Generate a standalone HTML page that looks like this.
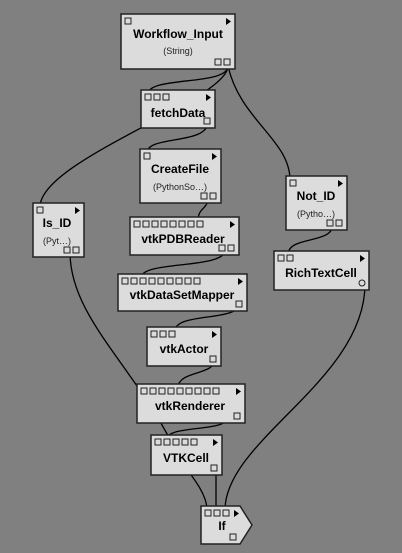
<!DOCTYPE html>
<html><head><style>
html,body{margin:0;padding:0;background:#808080;}
svg{display:block;}
text{font-family:"Liberation Sans",sans-serif;fill:#000;}
.t{font-weight:bold;font-size:12px;}
.s{font-size:9px;fill:#222;}
.n{fill:#dcdcdc;stroke:#222;stroke-width:1.5;}
.c{fill:none;stroke:#000;stroke-width:1.3;}
.p{fill:#dcdcdc;stroke:#222;stroke-width:1;}
</style></head><body>
<svg id="g" width="402" height="553" viewBox="0 0 402 553">
<rect width="402" height="553" fill="#808080"/>
<g>
<path class="c" d="M228,66 C228,86 148,76 148,94"/>
<path class="c" d="M228,66 C228,100 40,160 40,207"/>
<path class="c" d="M228,66 C240,120 290,140 290,180"/>
<path class="c" d="M208,122 C208,145 147,135 147,153"/>
<path class="c" d="M208,197 C208,210 198,207 198,221"/>
<path class="c" d="M226,249 C226,270 141,260 141,278"/>
<path class="c" d="M240,303 C240,322 175,312 175,331"/>
<path class="c" d="M215,359 C215,376 178,370 178,388"/>
<path class="c" d="M227,418 C227,432 167,425 167,439"/>
<path class="c" d="M70,252 C70,320 140,370 180,460 C195,480 207,495 207,510"/>
<path class="c" d="M216,469 L216,510"/>
<path class="c" d="M365,284 C365,380 225,440 225,510"/>
<path class="c" d="M333,224 C333,245 288,235 288,255"/>
</g>
<g>
<rect class="n" x="121" y="14" width="114" height="55"/>
<text class="t" x="178" y="38" text-anchor="middle">Workflow_Input</text>
<text class="s" x="178" y="54" text-anchor="middle">(String)</text>

<rect class="n" x="141" y="90" width="74" height="38"/>
<text class="t" x="178" y="117" text-anchor="middle">fetchData</text>

<rect class="n" x="140" y="149" width="81" height="54"/>
<text class="t" x="180" y="173" text-anchor="middle">CreateFile</text>
<text class="s" x="180" y="190" text-anchor="middle">(PythonSo…)</text>

<rect class="n" x="33" y="203" width="51" height="54"/>
<text class="t" x="57" y="227" text-anchor="middle">Is_ID</text>
<text class="s" x="57" y="244" text-anchor="middle">(Pyt…)</text>

<rect class="n" x="286" y="176" width="61" height="54"/>
<text class="t" x="316" y="200" text-anchor="middle">Not_ID</text>
<text class="s" x="316" y="217" text-anchor="middle">(Pytho…)</text>

<rect class="n" x="274" y="251" width="95" height="39"/>
<text class="t" x="321" y="277" text-anchor="middle">RichTextCell</text>

<rect class="n" x="130" y="217" width="109" height="38"/>
<text class="t" x="183" y="243" text-anchor="middle">vtkPDBReader</text>

<rect class="n" x="118" y="274" width="129" height="37"/>
<text class="t" x="182" y="299" text-anchor="middle">vtkDataSetMapper</text>

<rect class="n" x="147" y="327" width="74" height="39"/>
<text class="t" x="184" y="353" text-anchor="middle">vtkActor</text>

<rect class="n" x="137" y="384" width="108" height="39"/>
<text class="t" x="190" y="410" text-anchor="middle">vtkRenderer</text>

<rect class="n" x="151" y="435" width="71" height="40"/>
<text class="t" x="186" y="462" text-anchor="middle">VTKCell</text>

<path class="n" d="M201,506 L240,506 L252,525 L240,544 L201,544 Z"/>
<text class="t" x="222" y="530" text-anchor="middle">If</text>
</g>
<g id="ports"></g>
</svg>
<script>
var nodes=[
[121,14,114,55,1,2],[141,90,74,38,3,1],[140,149,81,54,1,2],[33,203,51,54,1,2],
[286,176,61,54,1,2],[274,251,95,39,2,-1],[130,217,109,38,8,2],[118,274,129,37,9,1],
[147,327,74,39,3,1],[137,384,108,39,9,1],[151,435,71,40,5,1],[201,506,51,38,3,1]];
var h='';
nodes.forEach(function(n){
 var x=n[0],y=n[1],w=n[2],hh=n[3];
 for(var i=0;i<n[4];i++){h+='<rect class="p" x="'+(x+4+i*9)+'" y="'+(y+4)+'" width="6" height="6"/>';}
 var tx=(n===nodes[11])?x+w-18:x+w-9;
 h+='<path d="M'+tx+','+(y+4)+' L'+(tx+5)+','+(y+7.5)+' L'+tx+','+(y+11)+'Z" fill="#000"/>';
 if(n[5]==-1){h+='<circle class="p" cx="'+(x+w-7)+'" cy="'+(y+hh-7)+'" r="3"/>';}
 else for(var j=0;j<n[5];j++){var px=(n===nodes[11])?x+w-22:x+w-11-j*9;h+='<rect class="p" x="'+px+'" y="'+(y+hh-10)+'" width="6" height="6"/>';}
});
document.getElementById('ports').innerHTML=h;
</script>
</body></html>
